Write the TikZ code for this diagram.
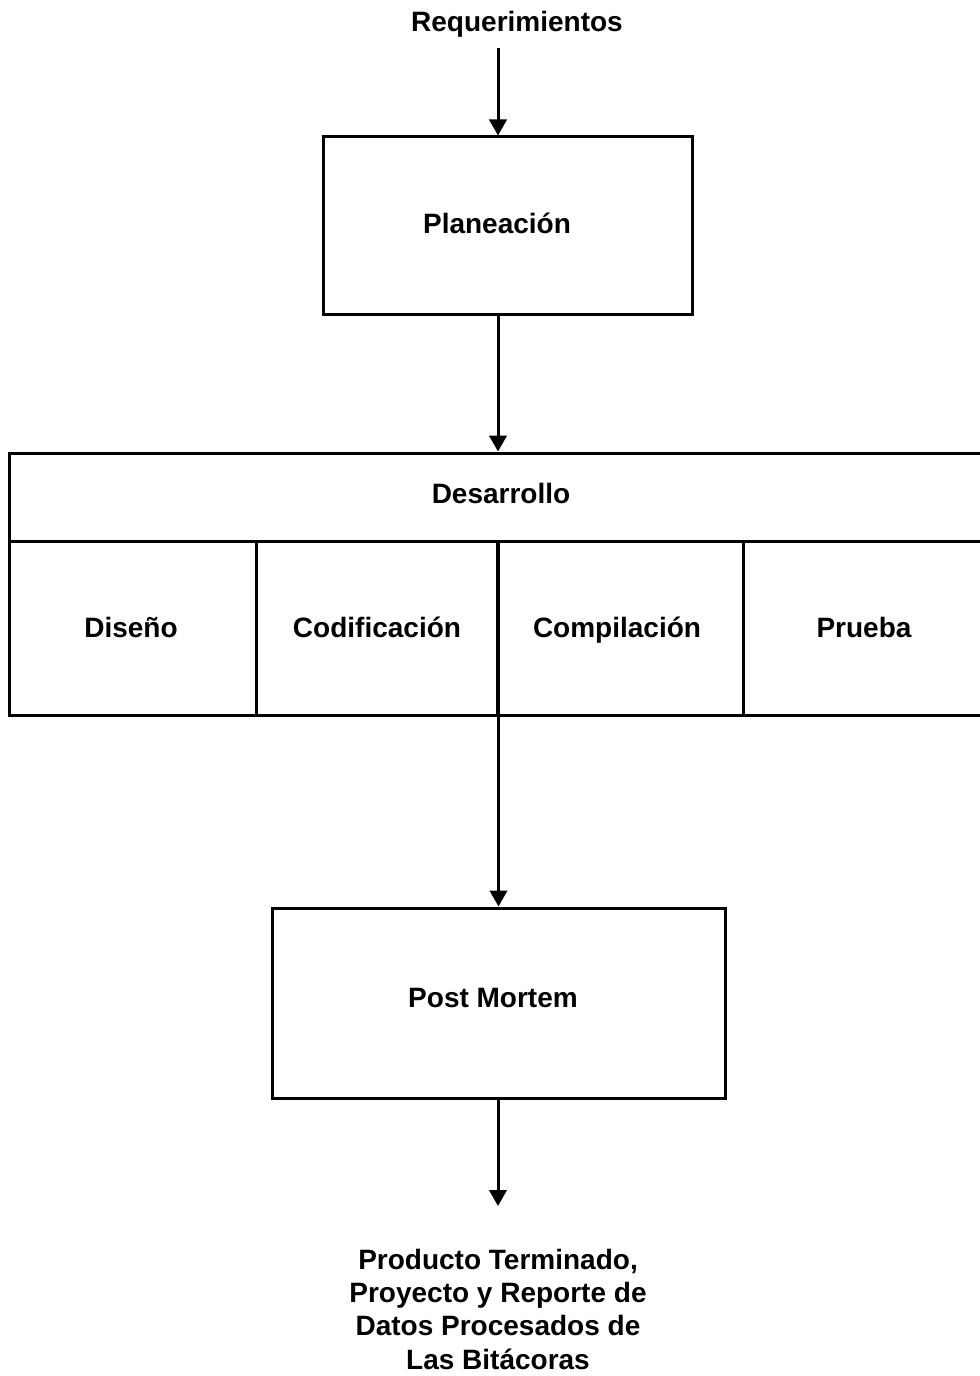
\documentclass[tikz,border=0pt]{standalone}
\usepackage{fontspec}
\setmainfont{Liberation Sans}
\usetikzlibrary{arrows.meta,fit}
\begin{document}
\begin{tikzpicture}[x=0.75pt,y=-0.75pt,
  box/.style={draw, line width=2.25pt, inner sep=0pt},
  lbl/.style={font=\fontsize{21pt}{25pt}\selectfont\bfseries, inner sep=0pt, align=center},
  onelbl/.style={lbl, text height=15pt, text depth=0pt},
  flow/.style={line width=2.25pt, -{Triangle[length=12pt,width=13pt]}}]
\clip (0,0) rectangle (980,1376);

% input label
\node[onelbl] (req) at (517,22) {Requerimientos};
\coordinate (reqout) at (498,48);

% planning stage
\node[box, fit={(323,137) (692,314)}] (plan) {};
\node[onelbl] (plantext) at (497,224) {Planeación};

% development stage with its four phases
\node[box, fit={(9,453) (1000,541)}] (dhead) {};
\node[onelbl] (dheadtext) at (501,493) {Desarrollo};
\node[box, fit={(9,541) (256,715)}] (diseno) {};
\node[box, fit={(256,541) (497,715)}] (codif) {};
\node[box, fit={(497,541) (743,715)}] (compil) {};
\node[box, fit={(743,541) (1000,715)}] (prueba) {};
\node[onelbl] (disenotext) at (131,627) {Diseño};
\node[onelbl] (codiftext) at (377,627) {Codificación};
\node[onelbl] (compiltext) at (617,627) {Compilación};
\node[onelbl] (pruebatext) at (864,627) {Prueba};

% post mortem stage
\node[box, fit={(272,908) (725,1098)}] (post) {};
\node[onelbl] (posttext) at (493,997) {Post Mortem};

% output
\coordinate (outtip) at (498,1206);
\node[lbl] (out) at (498,1309) {Producto Terminado,\\Proyecto y Reporte de\\Datos Procesados de\\Las Bitácoras};

% connectors
\draw[flow] (reqout) -- (reqout |- plan.north);
\draw[flow] (reqout |- plan.south) -- (reqout |- dhead.north);
\draw[flow] (codif.north east) -- (codif.north east |- post.north);
\draw[flow] (outtip |- post.south) -- (outtip);
\end{tikzpicture}
\end{document}
